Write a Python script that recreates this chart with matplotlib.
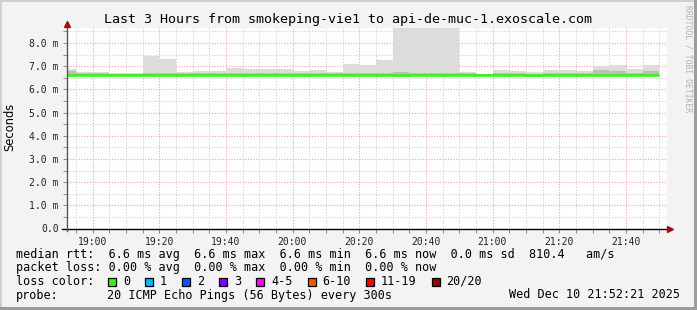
import numpy as np
import matplotlib
matplotlib.use("Agg")
import matplotlib.pyplot as plt
from matplotlib.patches import Rectangle

# minutes relative to 19:00, 5 minute bins (18:50 .. 21:50)
bin_edges = np.arange(-10, 171, 5)
# smoke top (max ping, ms)
smoke_max = [6.90, 6.75, 6.75, 6.71, 6.71, 7.46, 7.33, 6.75, 6.81, 6.80,
             6.93, 6.90, 6.90, 6.90, 6.78, 6.83, 6.75, 7.10, 7.07, 7.29,
             9.50, 9.50, 9.50, 9.50, 6.75, 6.68, 6.82, 6.79, 6.76, 6.84,
             6.84, 6.81, 7.01, 7.07, 6.90, 7.07]
# darker inner band of the smoke
smoke_mid = [6.80, 6.70, 6.70, 6.68, 6.68, 6.72, 6.70, 6.70, 6.72, 6.70,
             6.72, 6.70, 6.70, 6.70, 6.70, 6.72, 6.70, 6.72, 6.72, 6.72,
             6.75, 6.72, 6.72, 6.72, 6.70, 6.66, 6.70, 6.70, 6.68, 6.70,
             6.70, 6.72, 6.85, 6.80, 6.72, 6.80]
smoke_min = [6.56, 6.57, 6.57, 6.57, 6.57, 6.56, 6.57, 6.57, 6.57, 6.57,
             6.56, 6.57, 6.57, 6.57, 6.57, 6.56, 6.57, 6.57, 6.56, 6.56,
             6.55, 6.56, 6.56, 6.56, 6.57, 6.57, 6.57, 6.56, 6.55, 6.57,
             6.57, 6.57, 6.56, 6.56, 6.57, 6.56]
median_rtt = [6.63, 6.62, 6.62, 6.62, 6.62, 6.63, 6.62, 6.62, 6.62, 6.62,
              6.62, 6.62, 6.62, 6.62, 6.62, 6.62, 6.62, 6.61, 6.61, 6.61,
              6.62, 6.62, 6.62, 6.62, 6.62, 6.61, 6.61, 6.61, 6.61, 6.62,
              6.62, 6.62, 6.63, 6.63, 6.62, 6.62]

x_ticks = [0, 20, 40, 60, 80, 100, 120, 140, 160]
x_labels = ["19:00", "19:20", "19:40", "20:00", "20:20", "20:40", "21:00", "21:20", "21:40"]
y_ticks = [0, 1, 2, 3, 4, 5, 6, 7, 8]
y_labels = ["0.0", "1.0 m", "2.0 m", "3.0 m", "4.0 m", "5.0 m", "6.0 m", "7.0 m", "8.0 m"]

loss_labels = ["0", "1", "2", "3", "4-5", "6-10", "11-19", "20/20"]
loss_colors = ["#26ff00", "#00b8ff", "#0059ff", "#7e00ff", "#ff00ff", "#ff5500", "#ff0000", "#a10000"]

legend_lines = [
    "median rtt:  6.6 ms avg  6.6 ms max  6.6 ms min  6.6 ms now  0.0 ms sd  810.4   am/s",
    "packet loss: 0.00 % avg  0.00 % max  0.00 % min  0.00 % now",
]

W, H = 697, 310
mono = "DejaVu Sans Mono"


def fx(px):
    return px / W


def fy(py):
    return 1 - py / H


fig = plt.figure(figsize=(W / 100, H / 100), dpi=100, facecolor="#f3f3f3")
ax = fig.add_axes([fx(67), fy(228.5), fx(667) - fx(67), fy(28) - fy(228.5)])
ax.set_facecolor("white")
ax.set_xlim(-7.65, 172.35)
ax.set_ylim(0, 8.65)

# grid
for v in np.arange(0.5, 8.6, 1.0):
    ax.axhline(v, color="#cfcfcf", lw=0.8, ls=(0, (1, 1.5)), zorder=0)
for v in np.arange(1, 9):
    ax.axhline(v, color="#f2a0a0", lw=0.8, ls=(0, (1, 1.5)), zorder=0)
for m in range(-5, 172, 5):
    if m % 20 == 0:
        ax.axvline(m, color="#f2a0a0", lw=0.8, ls=(0, (1, 1.5)), zorder=0)
    else:
        ax.axvline(m, color="#cfcfcf", lw=0.8, ls=(0, (1, 1.5)), zorder=0)

# smoke and median
ax.stairs(smoke_max, bin_edges, baseline=smoke_min, fill=True, color="#dcdcdc", zorder=1)
ax.stairs(smoke_mid, bin_edges, baseline=smoke_min, fill=True, color="#bdbdbd", zorder=2)
ax.stairs(median_rtt, bin_edges, color=loss_colors[0], lw=1.8, zorder=3, baseline=None)

ax.set_xticks(x_ticks)
ax.set_xticklabels(x_labels, fontfamily=mono, fontsize=7)
ax.set_yticks(y_ticks)
ax.set_yticklabels(y_labels, fontfamily=mono, fontsize=7)
ax.set_xticks(np.arange(-5, 172, 5), minor=True)
ax.set_yticks(np.arange(0.5, 8.6, 1.0), minor=True)
ax.tick_params(which="both", length=3, width=0.7, color="#888888", pad=3, labelcolor="#222222")

for s in ["top", "right"]:
    ax.spines[s].set_visible(False)
ax.spines["left"].set_visible(False)
ax.spines["bottom"].set_visible(False)

# axes with arrows, rrdtool style
ax.plot([-0.008, 1.003], [0, 0], transform=ax.transAxes, color="black", lw=1, clip_on=False, zorder=5)
ax.plot([0, 0], [-0.01, 1.02], transform=ax.transAxes, color="#555555", lw=1, clip_on=False, zorder=5)
ax.plot([1.005], [0], transform=ax.transAxes, marker=">", ms=4.5, color="#a01010", clip_on=False, zorder=6)
ax.plot([0], [1.022], transform=ax.transAxes, marker="^", ms=4.5, color="#a01010", clip_on=False, zorder=6)

# texts
fig.text(fx(348), fy(19), "Last 3 Hours from smokeping-vie1 to api-de-muc-1.exoscale.com",
         ha="center", va="center", fontfamily=mono, fontsize=9.6, color="black")
fig.text(fx(10), fy(127), "Seconds", rotation=90, ha="center", va="center",
         fontfamily="DejaVu Sans", fontsize=8.3, color="black")
fig.text(fx(688), fy(5), "RRDTOOL / TOBI OETIKER", rotation=-90, ha="center", va="top",
         fontfamily=mono, fontsize=5.8, color="#b0b0b0")

fig.text(fx(16), fy(254.5), legend_lines[0], ha="left", va="center", fontfamily=mono, fontsize=8.5)
fig.text(fx(16), fy(268), legend_lines[1], ha="left", va="center", fontfamily=mono, fontsize=8.5)
fig.text(fx(16), fy(281.5), "loss color:", ha="left", va="center", fontfamily=mono, fontsize=8.5)
fig.text(fx(16), fy(295), "probe:", ha="left", va="center", fontfamily=mono, fontsize=8.5)
fig.text(fx(107), fy(295), "20 ICMP Echo Pings (56 Bytes) every 300s", ha="left", va="center",
         fontfamily=mono, fontsize=8.5)
fig.text(fx(680), fy(295), "Wed Dec 10 21:52:21 2025", ha="right", va="center",
         fontfamily=mono, fontsize=8.5)

xpos = 108
for lab, col in zip(loss_labels, loss_colors):
    fig.add_artist(Rectangle((fx(xpos), fy(286)), 8 / W, 8 / H, transform=fig.transFigure,
                             facecolor=col, edgecolor="black", lw=0.9))
    fig.text(fx(xpos + 15), fy(281.5), lab, ha="left", va="center", fontfamily=mono, fontsize=8.5)
    xpos += 15 + len(lab) * 7.1 + 15

# frame around the image
fig.add_artist(Rectangle((0, fy(2)), 1, 2 / H, transform=fig.transFigure, color="#d0d0d0", lw=0))
fig.add_artist(Rectangle((0, 0), 2 / W, 1, transform=fig.transFigure, color="#d0d0d0", lw=0))
fig.add_artist(Rectangle((fx(694), 0), 3 / W, 1, transform=fig.transFigure, color="#9c9c9c", lw=0))
fig.add_artist(Rectangle((0, 0), 1, 3 / H, transform=fig.transFigure, color="#9c9c9c", lw=0))

fig.savefig("out.png", dpi=100, facecolor=fig.get_facecolor())
